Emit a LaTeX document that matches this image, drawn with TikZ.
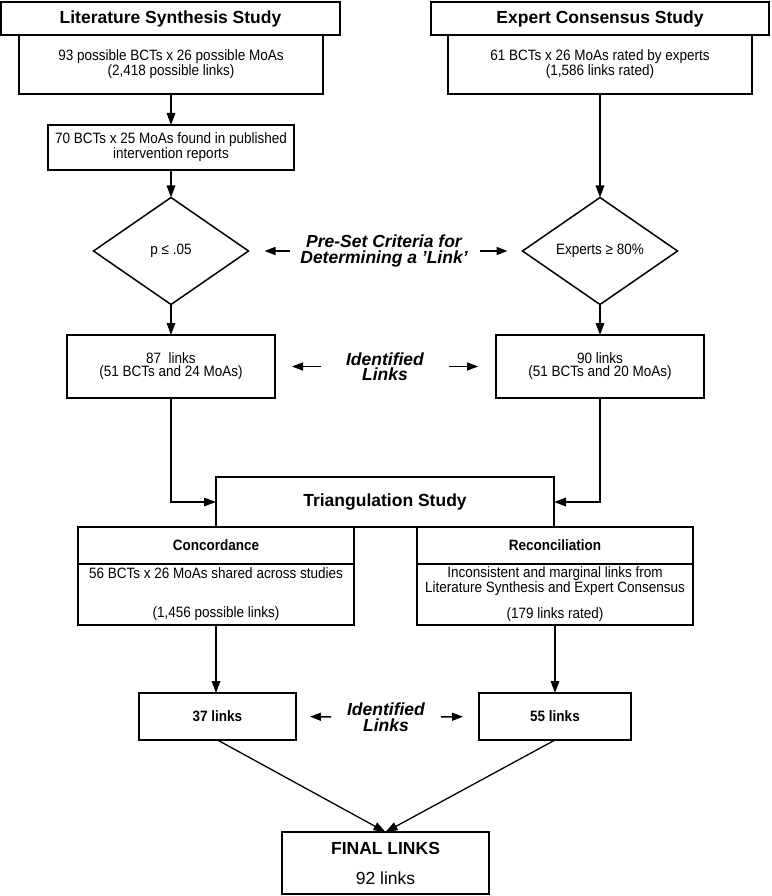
\documentclass[tikz,border=0pt]{standalone}
\usepackage{fontspec}
\setmainfont{Liberation Sans}
\newfontfamily\condfont{Liberation Sans}[FakeStretch=0.9]
\usetikzlibrary{arrows.meta,shapes.geometric}
\begin{document}
\begin{tikzpicture}[x=1pt,y=-1pt,
  every node/.style={inner sep=0pt, outer sep=0pt, align=center},
  box/.style={draw, line width=1.5pt, rectangle},
  dia/.style={draw, line width=1.5pt, diamond},
  body/.style={font=\condfont\fontsize{15}{13}\selectfont},
  bodyb/.style={font=\condfont\fontsize{15}{13}\selectfont\bfseries},
  ttl/.style={font=\fontsize{17.5}{15}\selectfont\bfseries},
  lbl/.style={font=\fontsize{17.5}{15.5}\selectfont\bfseries\itshape},
  conn/.style={line width=1.5pt, -{Triangle[length=12pt,width=8.5pt]}},
  sarr/.style={line width=1.5pt, -{Triangle[length=11pt,width=8pt]}}
]
\useasboundingbox (0,0) rectangle (771,896);
% Literature synthesis column
\node[box, ttl, minimum width=339pt, minimum height=33pt] (lsh) at (170.5,18.5) {Literature Synthesis Study};
\node[box, body, minimum width=304pt, minimum height=59pt] (lsb) at (171,64.5) {93 possible BCTs x 26 possible MoAs\\(2,418 possible links)};
\node[box, body, minimum width=246pt, minimum height=45pt] (lsf) at (171,147.5) {70 BCTs x 25 MoAs found in published\\intervention reports};
\node[dia, body, minimum width=155pt, minimum height=107pt] (dl) at (171,251) {p ≤ .05};
\node[box, body, minimum width=208pt, minimum height=63pt] (l87) at (171,366.5) {87\ \ links\\(51 BCTs and 24 MoAs)};
% Expert consensus column
\node[box, ttl, minimum width=338pt, minimum height=33pt] (ech) at (600,18.5) {Expert Consensus Study};
\node[box, body, minimum width=304pt, minimum height=59pt] (ecb) at (600,64.5) {61 BCTs x 26 MoAs rated by experts\\(1,586 links rated)};
\node[dia, body, minimum width=155pt, minimum height=107pt] (dr) at (600,251) {Experts ≥ 80\%};
\node[box, body, minimum width=208pt, minimum height=63pt] (r90) at (600,366.5) {90 links\\(51 BCTs and 20 MoAs)};
% middle labels
\node[lbl] (crit) at (384,251) {Pre-Set Criteria for\\Determining a \symbol{39}Link\symbol{39}};
\node[lbl] (idu) at (385,366.5) {Identified\\Links};
% Triangulation
\node[box, ttl, minimum width=338pt, minimum height=50pt] (tri) at (385,502) {Triangulation Study};
\node[box, bodyb, minimum width=276pt, minimum height=37pt] (conh) at (216,545.5) {Concordance};
\node[box, body, minimum width=276pt, minimum height=61pt] (conb) at (216,594.5) {56 BCTs x 26 MoAs shared across studies\\[13pt]\\(1,456 possible links)};
\node[box, bodyb, minimum width=276pt, minimum height=37pt] (rech) at (555,545.5) {Reconciliation};
\node[box, body, minimum width=276pt, minimum height=61pt] (recb) at (555,594.5) {Inconsistent and marginal links from\\Literature Synthesis and Expert Consensus\\[0pt]\\(179 links rated)};
% bottom
\node[box, bodyb, minimum width=157pt, minimum height=47pt] (l37) at (217.5,716.5) {37 links};
\node[box, bodyb, minimum width=152pt, minimum height=47pt] (l55) at (555,716.5) {55 links};
\node[lbl] (idl) at (386,717) {Identified\\Links};
\node[box, minimum width=207pt, minimum height=62pt] (fin) at (385.5,863) {};
\node[ttl] (finT) at (385.5,848) {FINAL LINKS};
\node[font=\fontsize{17.5}{15}\selectfont] (finN) at (385.5,878) {92 links};
% connectors
\draw[conn] (lsb.south) -- (lsf.north);
\draw[conn] (lsf.south) -- (dl.north);
\draw[conn] (dl.south) -- (l87.north);
\draw[conn] (ecb.south) -- (dr.north);
\draw[conn] (dr.south) -- (r90.north);
\draw[conn] (l87.south) |- (tri.west);
\draw[conn] (r90.south) |- (tri.east);
\draw[conn] (conb.south) -- (conb.south |- l37.north);
\draw[conn] (recb.south) -- (l55.north);
\draw[conn, line width=1.3pt] (l37.south) -- (fin.north);
\draw[conn, line width=1.3pt] (l55.south) -- (fin.north);
% label arrows
\draw[sarr, shorten <=10pt, shorten >=16pt] (crit.west) -- (dl.east);
\draw[sarr, shorten <=12pt, shorten >=15pt] (crit.east) -- (dr.west);
\draw[sarr, shorten <=25pt, shorten >=17pt] (idu.west) -- (l87.east);
\draw[sarr, shorten <=25pt, shorten >=18pt] (idu.east) -- (r90.west);
\draw[sarr, shorten <=16pt, shorten >=14pt] (idl.west) -- (l37.east);
\draw[sarr, shorten <=16pt, shorten >=16pt] (idl.east) -- (l55.west);
\end{tikzpicture}
\end{document}
